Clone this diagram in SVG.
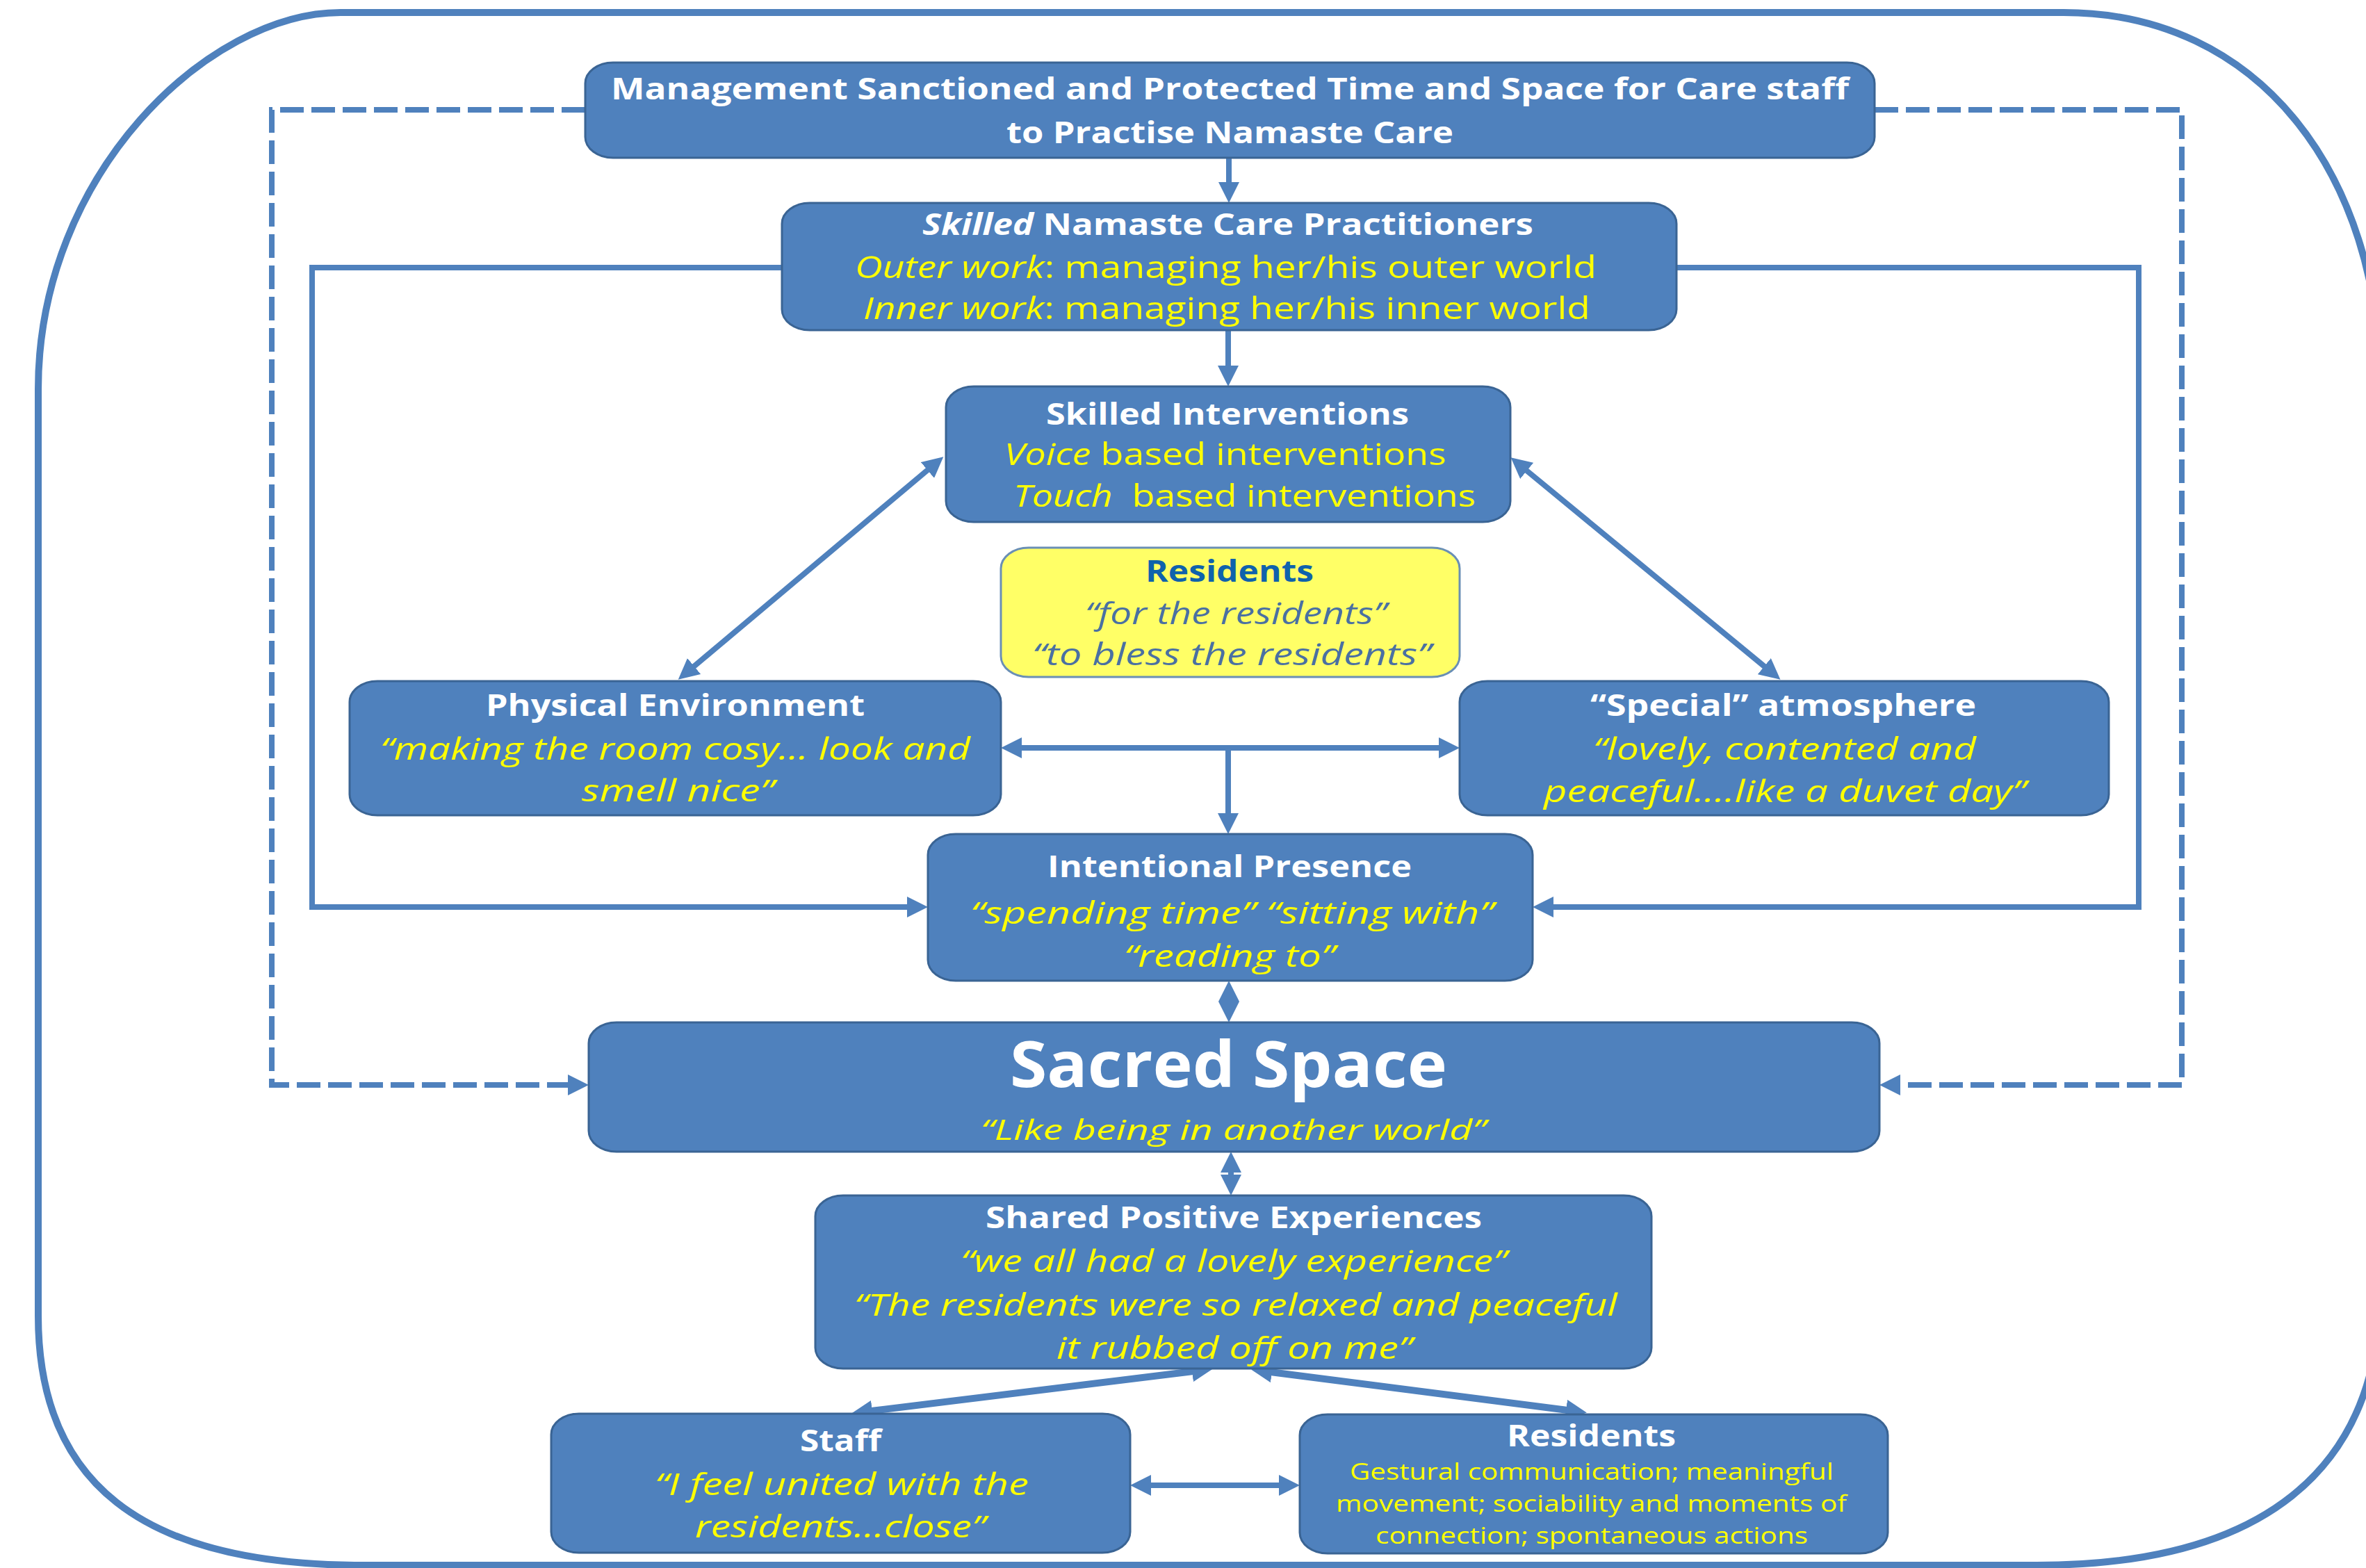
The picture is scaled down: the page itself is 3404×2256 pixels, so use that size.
<svg xmlns="http://www.w3.org/2000/svg" width="3404" height="2256" viewBox="0 0 3404 2256">
<style>
.box{fill:#4F81BD;stroke:#3A6494;stroke-width:3}
.ybox{fill:#FFFF66;stroke:#6A8FB5;stroke-width:3}
text{font-family:"Open Sans",Lato,"Liberation Sans",sans-serif}
.h{font-weight:700;fill:#FFFFFF;font-size:43px}
.q{font-style:italic;fill:#FFFF00;font-size:43px}
.y{fill:#FFFF00;font-size:43px}
.s{fill:#FFFF00;font-size:32px}
.rt{font-weight:700;fill:#0F62AC;font-size:43px}
.rq{font-style:italic;fill:#4A70A2;font-size:43px}
.con{fill:none;stroke:#4F81BD;stroke-width:8}
.thick{stroke-width:10}
.dash{stroke-dasharray:34 11}
.frame{fill:none;stroke:#4F81BD;stroke-width:10}
</style>
<defs>
<marker id="ah" viewBox="0 0 30 30" refX="10" refY="15" markerWidth="30" markerHeight="30" markerUnits="userSpaceOnUse" orient="auto-start-reverse">
<path d="M0,0 L30,15 L0,30 z" fill="#4F81BD"/>
</marker>
</defs>
<rect width="3404" height="2256" fill="#FFFFFF"/>
<path class="frame" d="M490,18 H2969 C3250,18 3425,250 3425,560 V1850 C3425,2120 3250,2252 2930,2252 H520 C200,2252 55,2130 55,1893 V560 C55,250 300,18 490,18 Z"/>

<g id="connectors">
<path class="con" d="M1768,227 V272" marker-end="url(#ah)"/>
<path class="con" d="M1767,475 V536" marker-end="url(#ah)"/>
<path class="con" d="M1342,670 L991,965" marker-start="url(#ah)" marker-end="url(#ah)"/>
<path class="con" d="M2189,671 L2546,965" marker-start="url(#ah)" marker-end="url(#ah)"/>
<path class="con" d="M1460,1076 H2080" marker-start="url(#ah)" marker-end="url(#ah)"/>
<path class="con" d="M1767,1076 V1180" marker-end="url(#ah)"/>
<path class="con" d="M1768,1431 V1451" marker-start="url(#ah)" marker-end="url(#ah)"/>
<path class="con" d="M1771,1677 V1700" marker-start="url(#ah)" marker-end="url(#ah)"/>
<path class="con thick" d="M1725,1972 L1245,2031" marker-start="url(#ah)" marker-end="url(#ah)"/>
<path class="con thick" d="M1820,1973 L2263,2030" marker-start="url(#ah)" marker-end="url(#ah)"/>
<path class="con" d="M1646,2137 H1850" marker-start="url(#ah)" marker-end="url(#ah)"/>
<path class="con" d="M1125,385 H449 V1305 H1315" marker-end="url(#ah)"/>
<path class="con" d="M2412,385 H3077 V1305 H2225" marker-end="url(#ah)"/>
<path class="con dash" d="M842,158 H391 V1561 H827" marker-end="url(#ah)"/>
<path class="con dash" d="M2697,158 H3139 V1561 H2724" marker-end="url(#ah)"/>
</g>

<g id="management">
<rect class="box" x="842" y="90" width="1855" height="137" rx="40" ry="30"/>
<text class="h" x="879" y="143" textLength="1781" lengthAdjust="spacingAndGlyphs">Management Sanctioned and Protected Time and Space for Care staff</text>
<text class="h" x="1448" y="206" textLength="643" lengthAdjust="spacingAndGlyphs">to Practise Namaste Care</text>
</g>

<g id="practitioners">
<rect class="box" x="1125" y="292" width="1287" height="183" rx="40" ry="30"/>
<text class="h" x="1327" y="338" textLength="879" lengthAdjust="spacingAndGlyphs"><tspan font-style="italic">Skilled</tspan> Namaste Care Practitioners</text>
<text class="y" x="1230" y="400" textLength="1067" lengthAdjust="spacingAndGlyphs"><tspan font-style="italic">Outer work</tspan>: managing her/his outer world</text>
<text class="y" x="1242" y="459" textLength="1046" lengthAdjust="spacingAndGlyphs"><tspan font-style="italic">Inner work</tspan>: managing her/his inner world</text>
</g>

<g id="interventions">
<rect class="box" x="1361" y="556" width="812" height="195" rx="40" ry="30"/>
<text class="h" x="1505" y="611" textLength="522" lengthAdjust="spacingAndGlyphs">Skilled Interventions</text>
<text class="y" x="1445" y="669" textLength="636" lengthAdjust="spacingAndGlyphs"><tspan font-style="italic">Voice</tspan> based interventions</text>
<text class="y" x="1458" y="729" textLength="665" lengthAdjust="spacingAndGlyphs" xml:space="preserve" style="white-space:pre"><tspan font-style="italic">Touch</tspan>  based interventions</text>
</g>

<g id="residents-focus">
<rect class="ybox" x="1440" y="788" width="660" height="186" rx="40" ry="30"/>
<text class="rt" x="1648" y="837" textLength="242" lengthAdjust="spacingAndGlyphs">Residents</text>
<text class="rq" x="1561" y="898" textLength="434" lengthAdjust="spacingAndGlyphs">“for the residents”</text>
<text class="rq" x="1485" y="957" textLength="574" lengthAdjust="spacingAndGlyphs">“to bless the residents”</text>
</g>

<g id="physical-environment">
<rect class="box" x="503" y="980" width="937" height="193" rx="40" ry="30"/>
<text class="h" x="699" y="1030" textLength="545" lengthAdjust="spacingAndGlyphs">Physical Environment</text>
<text class="q" x="547" y="1093" textLength="849" lengthAdjust="spacingAndGlyphs">“making the room cosy... look and</text>
<text class="q" x="837" y="1153" textLength="277" lengthAdjust="spacingAndGlyphs">smell nice”</text>
</g>

<g id="special-atmosphere">
<rect class="box" x="2100" y="980" width="934" height="193" rx="40" ry="30"/>
<text class="h" x="2288" y="1030" textLength="555" lengthAdjust="spacingAndGlyphs">“Special” atmosphere</text>
<text class="q" x="2292" y="1093" textLength="551" lengthAdjust="spacingAndGlyphs">“lovely, contented and</text>
<text class="q" x="2221" y="1154" textLength="694" lengthAdjust="spacingAndGlyphs">peaceful....like a duvet day”</text>
</g>

<g id="intentional-presence">
<rect class="box" x="1335" y="1200" width="870" height="211" rx="40" ry="30"/>
<text class="h" x="1507" y="1262" textLength="524" lengthAdjust="spacingAndGlyphs">Intentional Presence</text>
<text class="q" x="1396" y="1329" textLength="753" lengthAdjust="spacingAndGlyphs">“spending time” “sitting with”</text>
<text class="q" x="1617" y="1391" textLength="304" lengthAdjust="spacingAndGlyphs">“reading to”</text>
</g>

<g id="sacred-space">
<rect class="box" x="847" y="1471" width="1857" height="186" rx="40" ry="30"/>
<text class="h" x="1453" y="1564" textLength="629" lengthAdjust="spacingAndGlyphs" style="font-size:91px">Sacred Space</text>
<text class="q" x="1411" y="1640" textLength="727" lengthAdjust="spacingAndGlyphs" style="font-size:41px">“Like being in another world”</text>
</g>

<g id="shared-experiences">
<rect class="box" x="1173" y="1720" width="1203" height="249" rx="40" ry="30"/>
<text class="h" x="1418" y="1767" textLength="714" lengthAdjust="spacingAndGlyphs">Shared Positive Experiences</text>
<text class="q" x="1382" y="1830" textLength="786" lengthAdjust="spacingAndGlyphs">“we all had a lovely experience”</text>
<text class="q" x="1229" y="1893" textLength="1098" lengthAdjust="spacingAndGlyphs">“The residents were so relaxed and peaceful</text>
<text class="q" x="1520" y="1955" textLength="512" lengthAdjust="spacingAndGlyphs">it rubbed off on me”</text>
</g>

<g id="staff">
<rect class="box" x="793" y="2034" width="833" height="200" rx="40" ry="30"/>
<text class="h" x="1151" y="2088" textLength="117" lengthAdjust="spacingAndGlyphs">Staff</text>
<text class="q" x="942" y="2151" textLength="538" lengthAdjust="spacingAndGlyphs">“I feel united with the</text>
<text class="q" x="1000" y="2212" textLength="418" lengthAdjust="spacingAndGlyphs">residents...close”</text>
</g>

<g id="residents-outcomes">
<rect class="box" x="1870" y="2035" width="846" height="200" rx="40" ry="30"/>
<text class="h" x="2168" y="2081" textLength="243" lengthAdjust="spacingAndGlyphs">Residents</text>
<text class="s" x="1942" y="2129" textLength="696" lengthAdjust="spacingAndGlyphs">Gestural communication; meaningful</text>
<text class="s" x="1922" y="2175" textLength="735" lengthAdjust="spacingAndGlyphs">movement; sociability and moments of</text>
<text class="s" x="1979" y="2221" textLength="622" lengthAdjust="spacingAndGlyphs">connection; spontaneous actions</text>
</g>
</svg>
